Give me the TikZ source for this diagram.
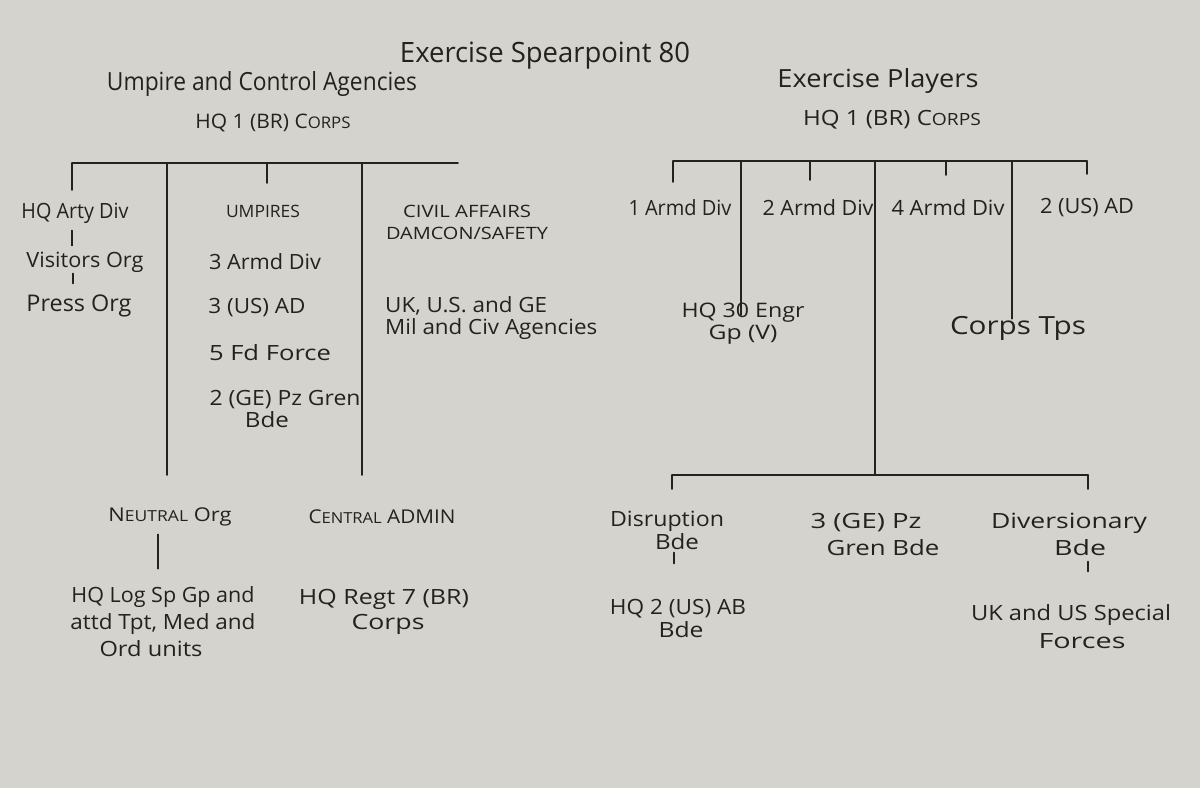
\documentclass[tikz,border=0pt]{standalone}
\usepackage{fontspec}
\setmainfont{Open Sans}
\usepackage{graphicx}
\usetikzlibrary{calc}
\definecolor{paper}{RGB}{213,211,206}
\definecolor{ink}{RGB}{36,33,30}
\newcommand\tw[2]{\resizebox{#1pt}{\height}{#2}}
\begin{document}
\begin{tikzpicture}[x=1pt,y=-1pt,
  lbl/.style={text=ink,inner sep=0pt,align=center,font=\fontsize{#1}{#1}\selectfont},
  lbl/.default=21,
  conn/.style={draw=ink,line width=1.5pt,line cap=round}]
\fill[paper] (0,0) rectangle (1200,788);
\useasboundingbox (0,0) rectangle (1200,788);

% headings
\node[lbl=28] (title) at (545,56) {\tw{290}{Exercise Spearpoint 80}};
\node[lbl=25] (lhead) at (262,84) {\tw{310}{Umpire and Control Agencies}};
\node[lbl=20] (lcorps) at (273,123) {\tw{155}{HQ 1 (BR) C\scalebox{0.8}{ORPS}}};
\node[lbl=25] (rhead) at (878,81) {\tw{201}{Exercise Players}};
\node[lbl=21] (rcorps) at (892,120) {\tw{178}{HQ 1 (BR) C\scalebox{0.8}{ORPS}}};

% left side
\node[lbl] (arty) at (75,213) {\tw{107}{HQ Arty Div}};
\node[lbl] (visitors) at (85,262) {\tw{117}{Visitors Org}};
\node[lbl=23] (press) at (79,306) {\tw{105}{Press Org}};
\node[lbl=17] (umpires) at (263,211) {\tw{74}{UMPIRES}};
\node[lbl] (ua) at (265,262) {\tw{112}{3 Armd Div}};
\node[lbl] (ub) at (257,308) {\tw{97}{3 (US) AD}};
\node[lbl] (uc) at (270,353) {\tw{122}{5 Fd Force}};
\node[lbl,font=\fontsize{21}{22}\selectfont] (ud) at (285,409) {\tw{151}{2 (GE) Pz Gren}\\\hspace*{-36pt}\tw{44}{Bde}};
\node[lbl,font=\fontsize{17}{22}\selectfont] (civil) at (467,222) {\tw{128}{CIVIL AFFAIRS}\\\tw{162}{DAMCON/SAFETY}};
\node[lbl,anchor=west,align=left,font=\fontsize{21}{22}\selectfont] (ukge) at (385,318) {\tw{162}{UK, U.S. and GE}\\\tw{212}{Mil and Civ Agencies}};

\node[lbl=19] (neutral) at (170,517) {\tw{123}{N\scalebox{0.8}{EUTRAL} Org}};
\node[lbl,font=\fontsize{21}{27}\selectfont] (logsp) at (163,622) {\tw{183}{HQ Log Sp Gp and}\\\tw{185}{attd Tpt, Med and}\\\hspace*{-24pt}\tw{103}{Ord units}};
\node[lbl=19] (central) at (382,517) {\tw{147}{C\scalebox{0.8}{ENTRAL} ADMIN}};
\node[lbl,font=\fontsize{21}{25}\selectfont] (regt) at (384,612) {\tw{170}{HQ Regt 7 (BR)}\\\hspace*{8pt}\tw{73}{Corps}};

% right side
\node[lbl] (d1) at (680,208) {\tw{103}{1 Armd Div}};
\node[lbl] (d2) at (818,208) {\tw{111}{2 Armd Div}};
\node[lbl] (d4) at (948,208) {\tw{113}{4 Armd Div}};
\node[lbl] (dus) at (1087,208) {\tw{94}{2 (US) AD}};
\node[lbl,font=\fontsize{20}{22}\selectfont] (engr) at (743,324) {\tw{123}{HQ 30 Engr}\\\tw{69}{Gp (V)}};
\node[lbl=25] (tps) at (1018,328) {\tw{136}{Corps Tps}};
\node[lbl,font=\fontsize{21}{23}\selectfont] (disr) at (667,530) {\tw{114}{Disruption}\\\hspace*{20pt}\tw{44}{Bde}};
\node[lbl,font=\fontsize{21}{27}\selectfont] (gren) at (866,534) {\tw{111}{3 (GE) Pz}\\\hspace*{34pt}\tw{113}{Gren Bde}};
\node[lbl,font=\fontsize{21}{27}\selectfont] (divers) at (1069,534) {\tw{156}{Diversionary}\\\hspace*{22pt}\tw{52}{Bde}};
\node[lbl,font=\fontsize{21}{23}\selectfont] (ab) at (678,618) {\tw{136}{HQ 2 (US) AB}\\\hspace*{6pt}\tw{45}{Bde}};
\node[lbl,font=\fontsize{21}{28}\selectfont] (sf) at (1071,627) {\tw{200}{UK and US Special}\\\hspace*{22pt}\tw{87}{Forces}};

% left bracket
\coordinate (lbA) at (72,163);
\coordinate (lb2) at (167,163);
\coordinate (lb3) at (267,163);
\coordinate (lb4) at (362,163);
\coordinate (lbB) at (458,163);
\draw[conn] (lbA) -- (lbB);
\draw[conn] (lbA) -- ++(0,27);
\draw[conn] (lb2) -- ++(0,312);
\draw[conn] (lb3) -- ++(0,20);
\draw[conn] (lb4) -- ++(0,312);
\draw[conn] ($(arty.south -| lbA)+(0,7)$) -- ($(visitors.north -| lbA)+(0,-6)$);
\draw[conn] ($(visitors.south -| lbA)+(1,1)$) -- ($(visitors.south -| lbA)+(1,11)$);
\draw[conn] ($(neutral.south)+(-12,8)$) -- ($(logsp.north)+(-5,-18)$);

% right bracket
\coordinate (rbA) at (673,161);
\coordinate (rb1) at (741,161);
\coordinate (rb2) at (810,161);
\coordinate (rb3) at (875,161);
\coordinate (rb4) at (946,161);
\coordinate (rb5) at (1012,161);
\coordinate (rbB) at (1087,161);
\draw[conn] (rbA) -- (rbB);
\draw[conn] (rbA) -- ++(0,21);
\draw[conn] (rb2) -- ++(0,19);
\draw[conn] (rb4) -- ++(0,14);
\draw[conn] (rbB) -- ++(0,13);
\draw[conn] (rb1) -- ($(engr.north -| rb1)+(0,12)$);
\draw[conn] (rb5) -- ($(tps.north -| rb5)+(0,3)$);

% bottom bracket
\coordinate (bbA) at (672,475);
\coordinate (bbM) at (875,475);
\coordinate (bbB) at (1088,475);
\draw[conn] (rb3) -- (bbM);
\draw[conn] (bbA) -- (bbB);
\draw[conn] (bbA) -- ++(0,14);
\draw[conn] (bbB) -- ++(0,14);
\draw[conn] ($(disr.south -| bbA)+(2,3)$) -- ($(disr.south -| bbA)+(2,14)$);
\draw[conn] ($(divers.south -| bbB)+(0,6)$) -- ($(divers.south -| bbB)+(0,16)$);
\end{tikzpicture}
\end{document}
